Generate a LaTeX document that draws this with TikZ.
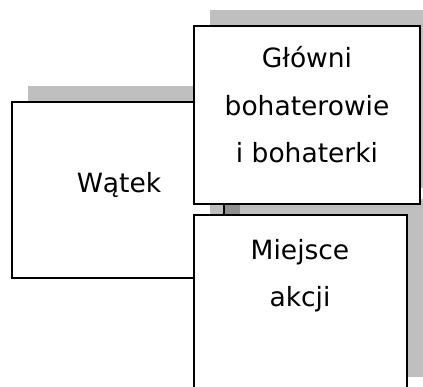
\documentclass[tikz,border=0pt]{standalone}
\usepackage{fontspec}
\setmainfont{DejaVu Sans}
\begin{document}
\begin{tikzpicture}[x=1pt,y=1pt,
  box/.style={draw=black, line width=1.8pt, fill=white, inner sep=0pt, outer sep=0pt, anchor=south west},
  shadowbox/.style={fill=black, fill opacity=0.25, draw=none, inner sep=0pt, outer sep=0pt, anchor=south west},
  lbl/.style={anchor=base, inner sep=0pt, font=\fontsize{26.5}{30}\selectfont}]
\useasboundingbox (0,0) rectangle (423,387);
\clip (0,0) rectangle (423,387);
% Watek
\node[shadowbox, minimum width=212pt, minimum height=176pt] (wsh) at (28,125) {};
\node[box, minimum width=212pt, minimum height=176pt] (wbox) at (12,109) {};
% Miejsce akcji
\node[shadowbox, minimum width=213pt, minimum height=178pt] (msh) at (210,10) {};
\node[box, minimum width=213pt, minimum height=178pt] (mbox) at (194,-6) {};
% Glowni bohaterowie
\node[shadowbox, minimum width=226pt, minimum height=178pt] (gsh) at (210,199) {};
\node[box, minimum width=226pt, minimum height=178pt] (gbox) at (194,183) {};
% labels
\node[lbl] (w) at (119,194) {Wątek};
\node[lbl] (g1) at (307,319) {Główni};
\node[lbl] (g2) at (307,271) {bohaterowie};
\node[lbl] (g3) at (307,224) {i bohaterki};
\node[lbl] (m1) at (300,127) {Miejsce};
\node[lbl] (m2) at (300,80) {akcji};
\end{tikzpicture}
\end{document}
